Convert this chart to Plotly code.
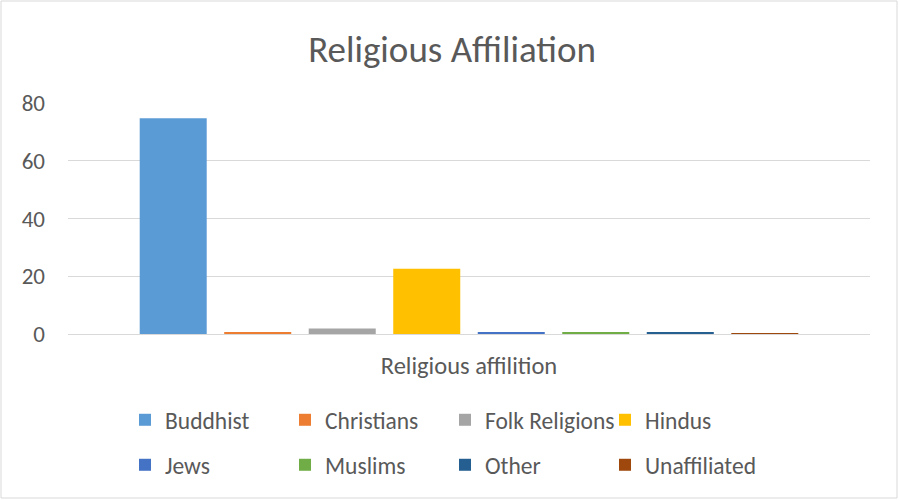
import plotly.graph_objects as go

categories = ["Religious affilition"]
series_names = ["Buddhist", "Christians", "Folk Religions", "Hindus",
                "Jews", "Muslims", "Other", "Unaffiliated"]
series_values = [74.7, 0.5, 1.9, 22.6, 0.4, 0.4, 0.4, 0.1]
series_colors = ["#5B9BD5", "#ED7D31", "#A5A5A5", "#FFC000",
                 "#4472C4", "#70AD47", "#255E91", "#9E480E"]
y_ticks = [0, 20, 40, 60, 80]

W, H = 899, 500
L, R, T, B = 68, 29, 103, 166
pw, ph = W - L - R, H - T - B

def px_x(px):
    return (px - L) / pw

def px_y(py):
    return 1 - (py - T) / ph

FONT = "Carlito, Calibri, Lato, sans-serif"
TXT = "#595959"

fig = go.Figure()
for i, (n, v, c) in enumerate(zip(series_names, series_values, series_colors)):
    fig.add_trace(go.Bar(
        x=categories, y=[v], name=n, marker=dict(color=c, line=dict(width=0)),
        legend="legend" if i < 4 else "legend2",
    ))

legend_common = dict(
    orientation="h", entrywidth=115, entrywidthmode="pixels",
    font=dict(family=FONT, size=23.5, color=TXT),
    bgcolor="rgba(0,0,0,0)", xanchor="left", yanchor="middle",
    traceorder="normal", itemclick=False, itemdoubleclick=False,
)

fig.update_layout(
    width=W, height=H,
    margin=dict(l=L, r=R, t=T, b=B, autoexpand=False),
    paper_bgcolor="white", plot_bgcolor="white",
    barmode="group", bargap=0.157, bargroupgap=0.207,
    title=dict(text="Religious Affiliation", x=452 / W, xref="container", xanchor="center",
               y=1 - 49 / H, yanchor="middle",
               font=dict(family=FONT, size=37, color=TXT)),
    font=dict(family=FONT, color=TXT),
    xaxis=dict(showgrid=False, showline=False, zeroline=False, ticks="",
               tickfont=dict(family=FONT, size=24.5, color=TXT),
               ticklabelstandoff=14),
    yaxis=dict(range=[0, 80], tickvals=y_ticks, showgrid=True, gridcolor="#D9D9D9",
               gridwidth=1, zeroline=True, zerolinecolor="#D9D9D9", zerolinewidth=1,
               showline=False, ticks="",
               tickfont=dict(family=FONT, size=23, color=TXT),
               ticklabelstandoff=22),
    legend=dict(x=px_x(125), y=px_y(420), **legend_common),
    legend2=dict(x=px_x(125), y=px_y(465), **legend_common),
    showlegend=True,
)

fig.add_shape(type="rect", xref="paper", yref="paper",
              x0=px_x(1), x1=px_x(897), y0=px_y(498), y1=px_y(1),
              line=dict(color="#D9D9D9", width=1), fillcolor="rgba(0,0,0,0)",
              layer="below")

fig.write_html("out.html")
